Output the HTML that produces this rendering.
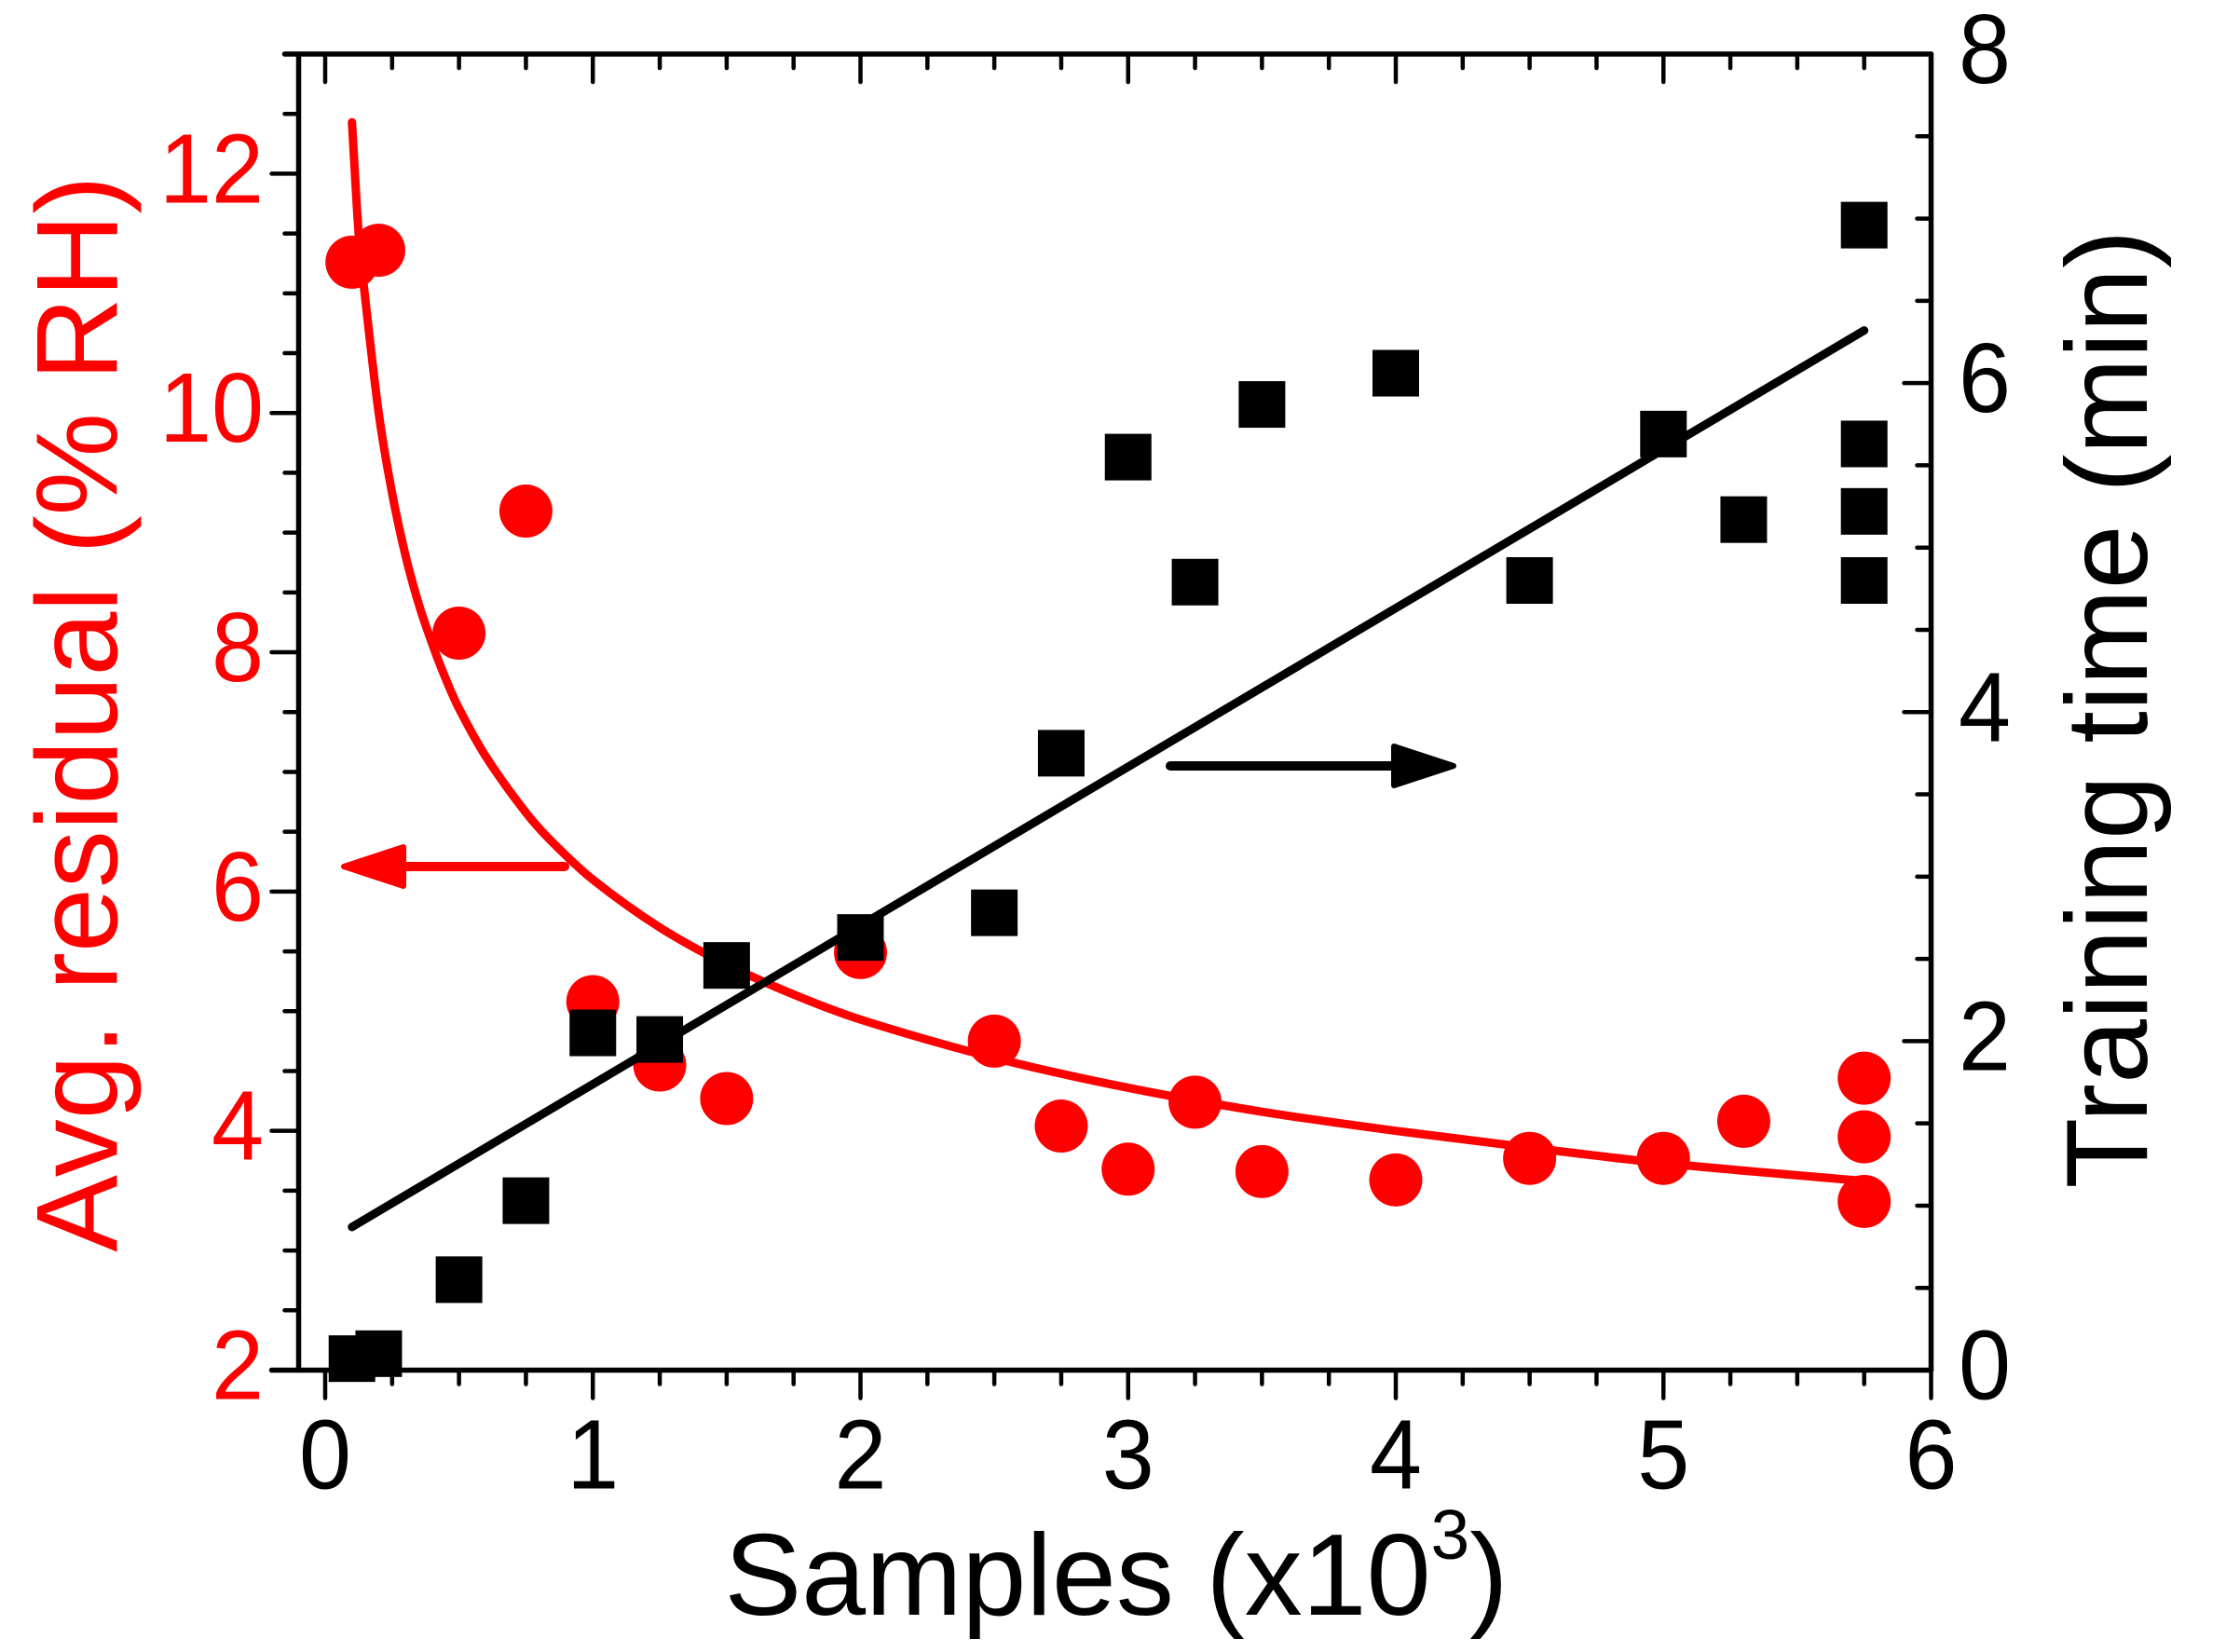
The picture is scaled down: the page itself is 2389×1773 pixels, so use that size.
<!DOCTYPE html>
<html lang="en">
<head>
<meta charset="utf-8">
<title>Avg. residual and training time vs samples</title>
<style>
html,body{margin:0;padding:0;background:#fff;}
svg{display:block;}
text{font-family:"Liberation Sans",Arial,sans-serif;}
</style>
</head>
<body>
<svg id="chart" xmlns="http://www.w3.org/2000/svg" width="2389" height="1773" viewBox="0 0 2389 1773">
  <rect x="0" y="0" width="2389" height="1773" fill="#ffffff"/>
  <g id="marks-circles"></g>
  <g id="fit-red"></g>
  <g id="marks-squares"></g>
  <g id="fit-black"></g>
  <g id="frame"></g>
  <g id="ticklabels"></g>
  <g>
    <line x1="606" y1="930" x2="430" y2="930" stroke="#ff0000" stroke-width="10" stroke-linecap="round"/>
    <polygon points="369,930 433,909 433,951" fill="#ff0000" stroke="#ff0000" stroke-width="6" stroke-linejoin="round"/>
  </g>
  <g>
    <line x1="1256" y1="822" x2="1500" y2="822" stroke="#000000" stroke-width="10" stroke-linecap="round"/>
    <polygon points="1560,822 1496,801 1496,843" fill="#000000" stroke="#000000" stroke-width="6" stroke-linejoin="round"/>
  </g>
  <text x="1198" y="1733" font-size="124" text-anchor="middle" fill="#000">Samples (x10<tspan font-size="75" dy="-60">3</tspan><tspan dy="60">)</tspan></text>
  <text transform="translate(125.5 766) rotate(-90)" font-size="124" text-anchor="middle" fill="#ff0000">Avg. residual (% RH)</text>
  <text transform="translate(2304 761) rotate(-90)" font-size="124" text-anchor="middle" fill="#000">Training time (min)</text>
</svg>
<script>
// Data
const residualX = [0.1, 0.2, 0.5, 0.75, 1, 1.25, 1.5, 2, 2.5, 2.75, 3, 3.25, 3.5, 4, 4.5, 5, 5.3, 5.75, 5.75, 5.75];
const residualY = [11.26, 11.36, 8.16, 9.18, 5.08, 4.55, 4.27, 5.49, 4.75, 4.04, 3.68, 4.24, 3.66, 3.59, 3.77, 3.77, 4.08, 4.44, 3.95, 3.41];
const timeX = [0.1, 0.2, 0.5, 0.75, 1, 1.25, 1.5, 2, 2.5, 2.75, 3, 3.25, 3.5, 4, 4.5, 5, 5.3, 5.75, 5.75, 5.75, 5.75];
const timeY = [0.07, 0.10, 0.55, 1.03, 2.05, 2.01, 2.46, 2.63, 2.78, 3.75, 5.55, 4.79, 5.87, 6.06, 4.80, 5.69, 5.17, 6.96, 5.63, 5.22, 4.80];
const fitResidualX = [0.1, 0.125, 0.15, 0.2, 0.25, 0.3, 0.35, 0.4, 0.45, 0.5, 0.6, 0.75, 0.85, 1, 1.25, 1.5, 1.75, 2, 2.5, 3, 3.5, 4, 4.5, 5, 5.75];
const fitResidualY = [12.43, 11.50, 10.95, 10.00, 9.33, 8.81, 8.40, 8.07, 7.78, 7.53, 7.13, 6.66, 6.41, 6.10, 5.70, 5.39, 5.14, 4.93, 4.61, 4.36, 4.16, 4.00, 3.86, 3.73, 3.58];
const fitTimeX = [0.1, 5.75];
const fitTimeY = [0.87, 6.32];
const xTickLabels = ["0", "1", "2", "3", "4", "5", "6"];
const leftTickLabels = ["2", "4", "6", "8", "10", "12"];
const rightTickLabels = ["0", "2", "4", "6", "8"];

const NS = "http://www.w3.org/2000/svg";
const plotLeft = 320.5, plotRight = 2072.5, plotTop = 58, plotBottom = 1470.5;
const xZero = 349;
const axisX = v => xZero + v * (plotRight - xZero) / 6;
const axisLeftY = v => plotBottom - (v - 2) * (plotBottom - plotTop) / 11;
const axisRightY = v => plotBottom - v * (plotBottom - plotTop) / 8;

function make(tag, parentId, props) {
  const el = document.createElementNS(NS, tag);
  for (const k in props) el.setAttribute(k, props[k]);
  document.getElementById(parentId).appendChild(el);
  return el;
}

// Red points
residualX.forEach((x, i) => {
  const c = make("circle", "marks-circles", {cx: axisX(x), cy: axisLeftY(residualY[i]), r: 28.5, fill: "#ff0000"});
  
  
});

// Black squares
timeX.forEach((x, i) => {
  const r = make("rect", "marks-squares", {x: axisX(x) - 25, y: axisRightY(timeY[i]) - 25, width: 50, height: 50, fill: "#000000"});
  
  
});

// Fits: cubic Hermite through the read points
function smoothPath(xs, ys, fx, fy) {
  const p = xs.map((x, i) => [fx(x), fy(ys[i])]);
  const slope = i => {
    const a = p[Math.max(0, i - 1)], c = p[Math.min(p.length - 1, i + 1)];
    return (c[1] - a[1]) / (c[0] - a[0]);
  };
  let d = "M" + p[0][0] + " " + p[0][1];
  for (let i = 0; i < p.length - 1; i++) {
    const b = p[i], c = p[i + 1], dx = c[0] - b[0];
    d += " C" + (b[0] + dx / 3) + " " + (b[1] + slope(i) * dx / 3) + " " +
         (c[0] - dx / 3) + " " + (c[1] - slope(i + 1) * dx / 3) + " " + c[0] + " " + c[1];
  }
  return d;
}
const redLine = make("path", "fit-red", {d: smoothPath(fitResidualX, fitResidualY, axisX, axisLeftY), fill: "none", stroke: "#ff0000", "stroke-width": 9, "stroke-linecap": "round"});


const blackLine = make("path", "fit-black", {d: smoothPath(fitTimeX, fitTimeY, axisX, axisRightY), fill: "none", stroke: "#000000", "stroke-width": 9, "stroke-linecap": "round"});



// Frame
function seg(x1, y1, x2, y2, w) {
  return make("line", "frame", {x1: x1, y1: y1, x2: x2, y2: y2, stroke: "#000", "stroke-width": w, "stroke-linecap": "round"});
}
const borderLeft = seg(plotLeft, plotTop, plotLeft, plotBottom, 5.5);


const borderRight = seg(plotRight, plotTop, plotRight, plotBottom, 5.5);


const borderTop = seg(plotLeft - 15, plotTop, plotRight, plotTop, 5.5);


const borderBottom = seg(plotLeft - 29, plotBottom, plotRight, plotBottom, 5.5);



// X ticks: bottom outward, top inward
for (let i = 0; i <= 24; i++) {
  const v = i / 4, major = i % 4 === 0, len = major ? 30 : 15, x = axisX(v);
  const b = seg(x, plotBottom, x, plotBottom + len, 4.5);
  
  
  const t = seg(x, plotTop, x, plotTop + len, 4.5);
  
  
}
// Left ticks outward
for (let i = 1; i <= 22; i++) {
  const v = 2 + i / 2, major = i % 4 === 0, len = major ? 29 : 15, y = axisLeftY(v);
  const l = seg(plotLeft, y, plotLeft - len, y, 4.5);
  
  
}
// Right ticks inward
for (let i = 1; i < 16; i++) {
  const v = i / 2, major = i % 4 === 0, len = major ? 29 : 15, y = axisRightY(v);
  const r = seg(plotRight, y, plotRight - len, y, 4.5);
  
  
}

// Tick labels
const labelScale = " scale(0.95 1)";
xTickLabels.forEach(s => {
  const t = make("text", "ticklabels", {transform: "translate(" + axisX(+s) + " 1597.5)" + labelScale, "font-size": 106, "text-anchor": "middle", fill: "#000"});
  t.textContent = s;
  
  
});
leftTickLabels.forEach(s => {
  const t = make("text", "ticklabels", {transform: "translate(283 " + (axisLeftY(+s) + 31) + ")" + labelScale, "font-size": 106, "text-anchor": "end", fill: "#ff0000"});
  t.textContent = s;
  
  
});
rightTickLabels.forEach(s => {
  const t = make("text", "ticklabels", {transform: "translate(2102 " + (axisRightY(+s) + 31) + ")" + labelScale, "font-size": 106, "text-anchor": "start", fill: "#000"});
  t.textContent = s;
  
  
});
</script>
</body>
</html>
